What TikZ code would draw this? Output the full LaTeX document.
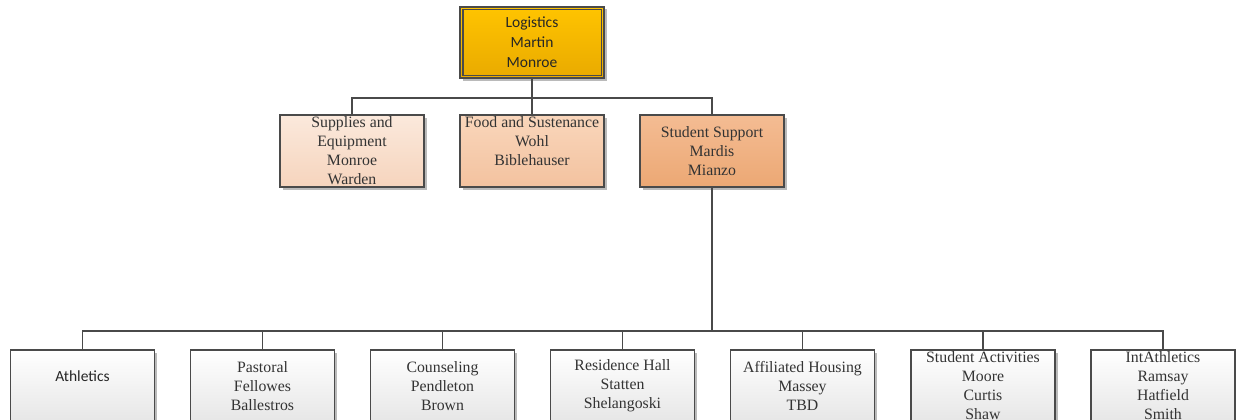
\documentclass[tikz,border=0pt]{standalone}
\usepackage{fontspec}
\setmainfont{Liberation Serif}
\newfontfamily\calib{Carlito}
\usetikzlibrary{shadows}
\definecolor{goldT}{HTML}{FFC400}
\definecolor{goldB}{HTML}{E9AA00}
\definecolor{supT}{HTML}{FBE9DC}
\definecolor{supB}{HTML}{F6D4BD}
\definecolor{foodT}{HTML}{F9D6BB}
\definecolor{foodB}{HTML}{F3C29F}
\definecolor{ssT}{HTML}{F4BC93}
\definecolor{ssB}{HTML}{ECA874}
\definecolor{lowB}{HTML}{E6E6E6}
\definecolor{linec}{HTML}{4A4A4A}
\begin{document}
\begin{tikzpicture}[x=1pt,y=1pt,
  box/.style={draw=linec, line width=1.1pt, minimum width=144pt, minimum height=72pt,
    inner sep=0pt, align=center, text=black!80,
    font=\fontsize{15.8}{19}\selectfont,
    drop shadow={shadow xshift=2.5pt,shadow yshift=-2.5pt,fill=black!45,opacity=0.6}},
  calbox/.style={box, font=\calib\fontsize{15.5}{20}\selectfont, text=black!85},
  lowbox/.style={box, top color=white, bottom color=lowB},
  conn/.style={draw=linec, line width=1.1pt}]
\useasboundingbox (0,0) rectangle (1236,-420);
\clip (0,0) rectangle (1236,-420);
% top
\node[calbox, minimum height=71pt, top color=goldT, bottom color=goldB] (log) at (532,-42.5)
  {Logistics\\Martin\\Monroe};
\draw[linec, line width=1.1pt] ([shift={(3.5pt,-3.5pt)}]log.north west) rectangle ([shift={(-3.5pt,3.5pt)}]log.south east);
% middle
\node[box, top color=supT, bottom color=supB] (sup) at (352,-151)
  {Supplies and\\Equipment\\Monroe\\Warden};
\node[box, top color=foodT, bottom color=foodB] (food) at (532,-151)
  {Food and Sustenance\\Wohl\\Biblehauser\\\mbox{}};
\node[box, top color=ssT, bottom color=ssB] (ss) at (712,-151)
  {Student Support\\Mardis\\Mianzo};
% bottom
\node[lowbox, font=\calib\fontsize{15.5}{19}\selectfont, text=black!85] (ath) at (82.5,-386) {Athletics\\\mbox{}};
\node[lowbox] (pas) at (262.5,-386) {Pastoral\\Fellowes\\Ballestros};
\node[lowbox] (cou) at (442.5,-386) {Counseling\\Pendleton\\Brown};
\node[lowbox] (res) at (622.5,-386) {Residence Hall\\Statten\\Shelangoski};
\node[lowbox] (aff) at (802.5,-386) {Affiliated Housing\\Massey\\TBD};
\node[lowbox] (act) at (983,-386) {Student Activities\\Moore\\Curtis\\Shaw};
\node[lowbox] (int) at (1163,-386) {IntAthletics\\Ramsay\\Hatfield\\Smith};
% connectors
\coordinate (bus1) at (532,-98);
\coordinate (bus2) at (712,-331);
\draw[conn] (log.south) -- (bus1);
\draw[conn] (bus1) -| (sup.north);
\draw[conn] (bus1) -- (food.north);
\draw[conn] (bus1) -| (ss.north);
\draw[conn] (ss.south) -- (bus2);
\foreach \n in {ath,pas,cou,res,aff,act,int} {
  \draw[conn] (bus2) -| (\n.north);
}
\end{tikzpicture}
\end{document}
